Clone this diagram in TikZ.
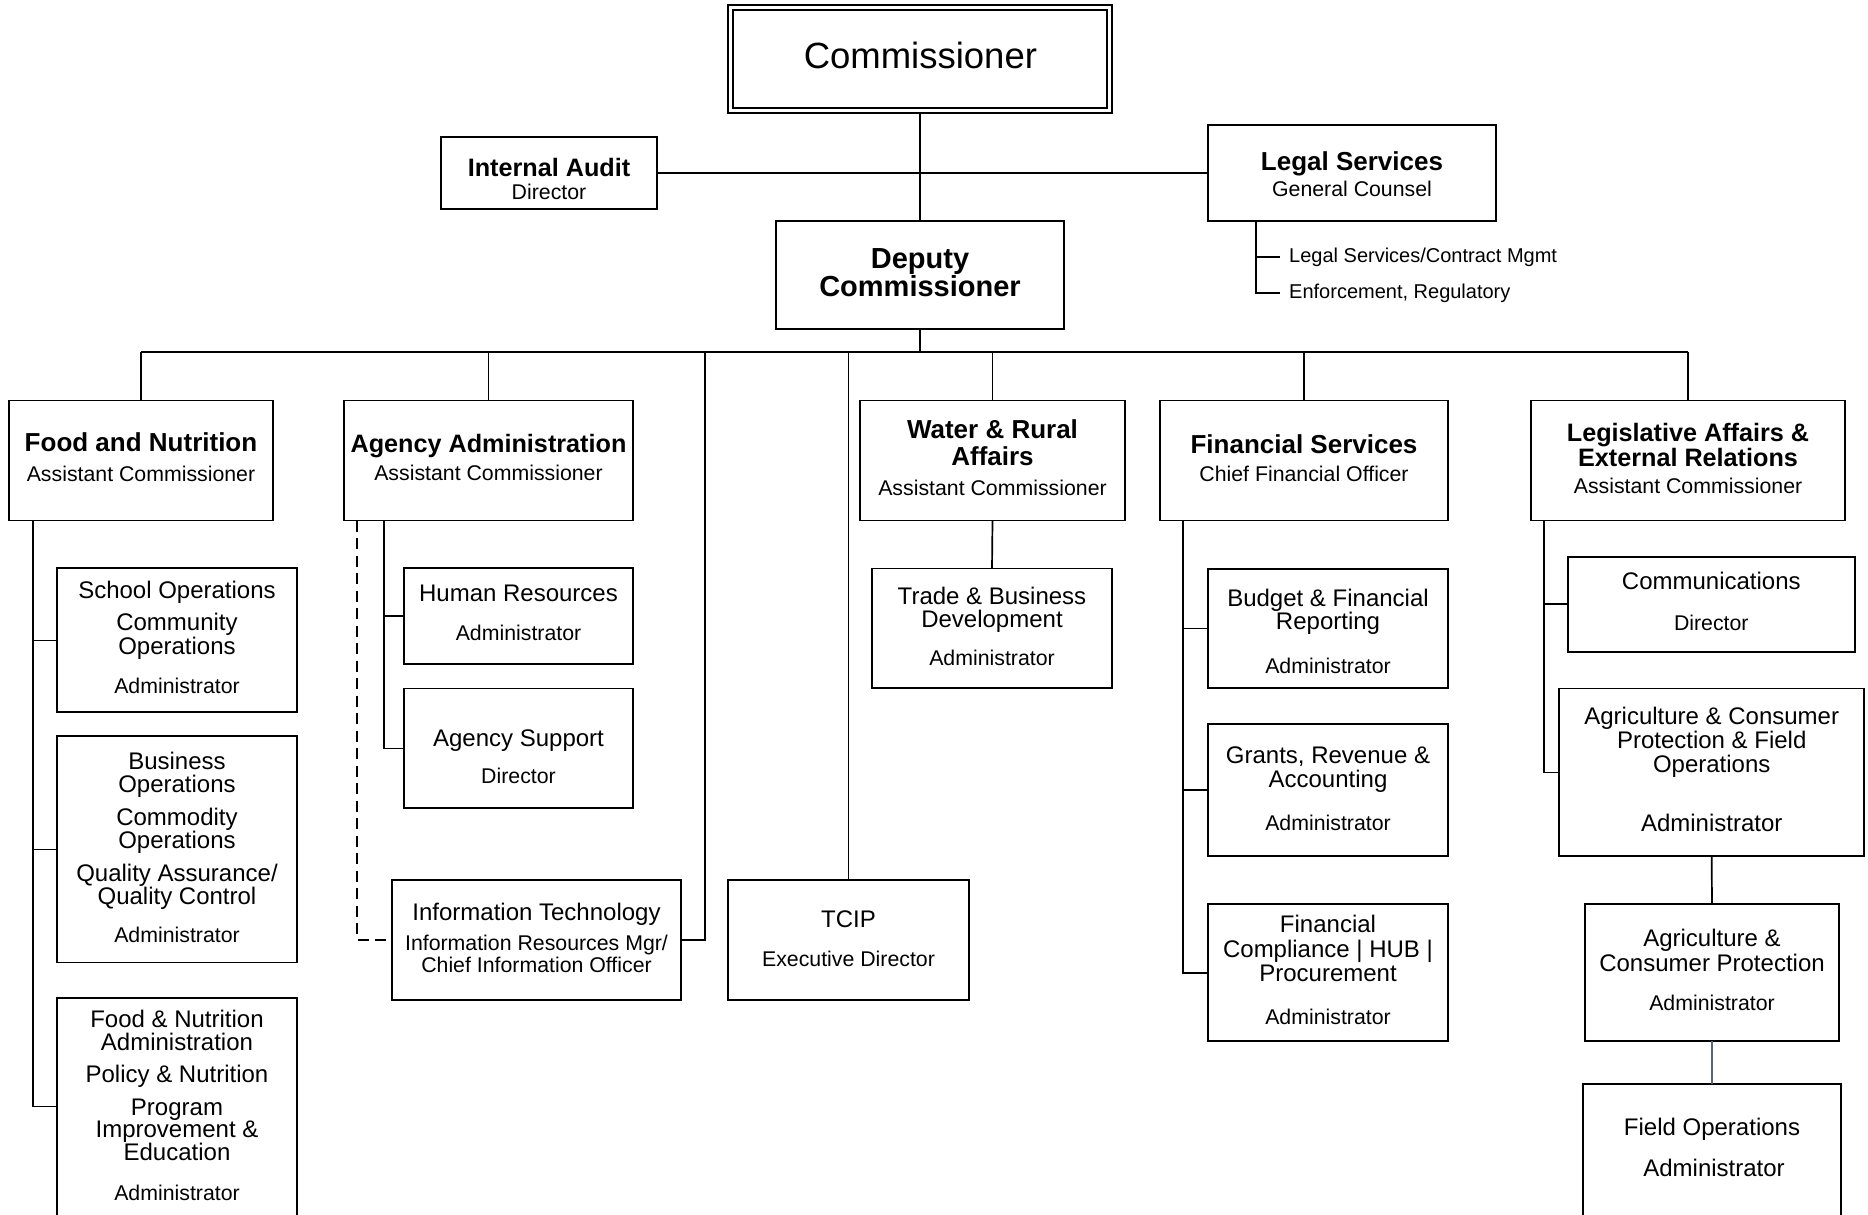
\documentclass[tikz,border=0pt]{standalone}
\usepackage{fontspec}
\setmainfont{Liberation Sans}
\definecolor{slate}{RGB}{90,100,120}
\newcommand\bx[5]{\node[box,minimum width={#4-#2},minimum height={#5-#3}] (#1) at ({(#2+#4)/2},{(#3+#5)/2}) {};}
\newcommand\tline[5]{\node[#1] (#2) at (#3,#4) {#5};}
\tikzset{
 box/.style={draw, line width=1.9pt, inner sep=0pt, outer sep=0pt},
 conn/.style={line width=1.7pt},
 tx/.style={anchor=base, inner sep=0pt},
 fC/.style={tx, font=\fontsize{36.5}{36.5}\selectfont},
 fD/.style={tx, font=\fontsize{29}{29}\selectfont\bfseries},
 fB/.style={tx, font=\fontsize{26}{26}\selectfont\bfseries},
 fBs/.style={tx, font=\fontsize{25.2}{25.2}\selectfont\bfseries},
 fT/.style={tx, font=\fontsize{24}{24}\selectfont},
 fS/.style={tx, font=\fontsize{21.3}{21.3}\selectfont},
 fL/.style={anchor=west, inner xsep=9pt, inner ysep=0pt, font=\fontsize{20}{20}\selectfont},
}
\begin{document}
\begin{tikzpicture}[x=1pt,y=-1pt]
\clip (0,0) rectangle (1868,1215);
\fill[white] (0,0) rectangle (1868,1215);
% boxes
\bx{comm}{728}{5}{1112}{113}
\bx{commin}{733}{10}{1107}{108}
\bx{ia}{441}{137}{657}{209}
\bx{ls}{1208}{125}{1496}{221}
\bx{dep}{776}{221}{1064}{329}
\bx{food}{9}{400.5}{273}{520.5}
\bx{aa}{344}{400.5}{633}{520.5}
\bx{wr}{860}{400.5}{1125}{520.5}
\bx{fs}{1160}{400.5}{1448}{520.5}
\bx{la}{1531}{400.5}{1845}{520.5}
\bx{school}{57}{568.3}{297}{712.4}
\bx{busop}{57}{736.3}{297}{962.5}
\bx{fna}{57}{998.3}{297}{1230}
\bx{hr}{404.3}{568.3}{632.7}{664.3}
\bx{as}{404.3}{688.5}{632.7}{808.3}
\bx{it}{392.3}{880}{680.7}{1000}
\bx{tcip}{728.3}{880}{968.7}{1000.4}
\bx{tb}{872}{568.5}{1112}{688.4}
\bx{bf}{1207.7}{568.6}{1448.3}{688.2}
\bx{gr}{1207.7}{724.3}{1448.3}{856}
\bx{fc}{1207.7}{904.3}{1448.3}{1041}
\bx{com}{1567.7}{556.7}{1855}{651.7}
\bx{ac}{1559}{688.5}{1864.3}{856.4}
\bx{acp}{1584.7}{904.2}{1839.3}{1040.6}
\bx{fo}{1583.3}{1084.3}{1840.7}{1230}
% texts
\tline{fC}{commT}{920.4}{68.7}{Commissioner}
\tline{fBs}{iaT}{549}{176}{Internal Audit}
\tline{fS}{iaS}{549}{199.3}{Director}
\tline{fB}{lsT}{1352}{170.7}{Legal Services}
\tline{fS}{lsS}{1352}{196}{General Counsel}
\tline{fD}{depT1}{920}{268}{Deputy}
\tline{fD}{depT2}{920}{296}{Commissioner}
\node[fL] (ls1) at (1280,257) {Legal Services/Contract Mgmt};
\node[fL] (ls2) at (1280,293) {Enforcement, Regulatory};
\tline{fB}{foodT}{141}{451.7}{Food and Nutrition}
\tline{fS}{foodS}{141}{481.7}{Assistant Commissioner}
\tline{fBs}{aaT}{488.5}{452.7}{Agency Administration}
\tline{fS}{aaS}{488.5}{480.7}{Assistant Commissioner}
\tline{fB}{wrT1}{992.5}{438}{Water \& Rural}
\tline{fB}{wrT2}{992.5}{465}{Affairs}
\tline{fS}{wrS}{992.5}{495}{Assistant Commissioner}
\tline{fB}{fsT}{1304}{453}{Financial Services}
\tline{fS}{fsS}{1304}{481.7}{Chief Financial Officer}
\tline{fBs}{laT1}{1688}{441}{Legislative Affairs \&}
\tline{fBs}{laT2}{1688}{466}{External Relations}
\tline{fS}{laS}{1688}{493}{Assistant Commissioner}
% food and nutrition column
\tline{fT}{sc1}{177}{598.3}{School Operations}
\tline{fT}{sc2}{177}{630}{Community}
\tline{fT}{sc3}{177}{654}{Operations}
\tline{fS}{sc4}{177}{693}{Administrator}
\tline{fT}{bo1}{177}{769.4}{Business}
\tline{fT}{bo2}{177}{792.6}{Operations}
\tline{fT}{bo3}{177}{825}{Commodity}
\tline{fT}{bo4}{177}{848.9}{Operations}
\tline{fT}{bo5}{177}{881.3}{Quality Assurance/}
\tline{fT}{bo6}{177}{904.5}{Quality Control}
\tline{fS}{bo7}{177}{942.7}{Administrator}
\tline{fT}{fn1}{177}{1027.3}{Food \& Nutrition}
\tline{fT}{fn2}{177}{1050.2}{Administration}
\tline{fT}{fn3}{177}{1082.6}{Policy \& Nutrition}
\tline{fT}{fn4}{177}{1115}{Program}
\tline{fT}{fn5}{177}{1137.2}{Improvement \&}
\tline{fT}{fn6}{177}{1160.4}{Education}
\tline{fS}{fn7}{177}{1200.3}{Administrator}
% agency administration column
\tline{fT}{hr1}{518.5}{601.7}{Human Resources}
\tline{fS}{hr2}{518.5}{640}{Administrator}
\tline{fT}{as1}{518.5}{746}{Agency Support}
\tline{fS}{as2}{518.5}{783.3}{Director}
\tline{fT}{it1}{536.5}{920.7}{Information Technology}
\tline{fS}{it2}{536.5}{950.7}{Information Resources Mgr/}
\tline{fS}{it3}{536.5}{972.7}{Chief Information Officer}
\tline{fT}{tc1}{848.5}{927}{TCIP}
\tline{fS}{tc2}{848.5}{966.5}{Executive Director}
% water
\tline{fT}{tb1}{992}{604.5}{Trade \& Business}
\tline{fT}{tb2}{992}{627.8}{Development}
\tline{fS}{tb3}{992}{665.7}{Administrator}
% financial
\tline{fT}{bf1}{1328}{606}{Budget \& Financial}
\tline{fT}{bf2}{1328}{629.3}{Reporting}
\tline{fS}{bf3}{1328}{673.2}{Administrator}
\tline{fT}{gr1}{1328}{763.2}{Grants, Revenue \&}
\tline{fT}{gr2}{1328}{787.5}{Accounting}
\tline{fS}{gr3}{1328}{830.4}{Administrator}
\tline{fT}{fc1}{1328}{932.9}{Financial}
\tline{fT}{fc2}{1328}{957.9}{Compliance | HUB |}
\tline{fT}{fc3}{1328}{981.4}{Procurement}
\tline{fS}{fc4}{1328}{1024.3}{Administrator}
% legislative
\tline{fT}{co1}{1711.3}{589.3}{Communications}
\tline{fS}{co2}{1711.3}{630}{Director}
\tline{fT}{ac1}{1711.7}{724.4}{Agriculture \& Consumer}
\tline{fT}{ac2}{1711.7}{748.2}{Protection \& Field}
\tline{fT}{ac3}{1711.7}{772.1}{Operations}
\tline{fT}{ac4}{1711.7}{831.1}{Administrator}
\tline{fT}{acp1}{1712}{946.8}{Agriculture \&}
\tline{fT}{acp2}{1712}{971.7}{Consumer Protection}
\tline{fS}{acp3}{1712}{1010.3}{Administrator}
\tline{fT}{fo1}{1712}{1135.5}{Field Operations}
\tline{fT}{fo2}{1714}{1176.4}{Administrator}
% connectors
\draw[conn, line width=1.5pt] (comm.south) -- (dep.north);
\draw[conn] (ia.east) -- (ls.west);
\coordinate (lsx) at (1256,0);
\draw[conn] (ls.south -| lsx) |- (ls2.west);
\draw[conn] (ls1.west -| lsx) -- (ls1.west);
\coordinate (bus) at (920,352);
\draw[line width=2.4pt] (dep.south) -- (bus);
\draw[line width=2.2pt] (food.north |- bus) -- (la.north |- bus);
\foreach \n in {food,aa,wr,fs,la,tcip}{\draw[conn] (\n.north |- bus) -- (\n.north);}
\coordinate (itx) at (705,352);
\draw[line width=2.4pt] (itx) |- (it.east);
\coordinate (fx) at (33,0);
\coordinate (fnat) at (57,1106.5);
\draw[conn] (food.south -| fx) |- (fnat);
\draw[conn] (school.west -| fx) -- (school.west);
\draw[conn] (busop.west -| fx) -- (busop.west);
\coordinate (ax) at (384,0);
\draw[conn] (aa.south -| ax) |- (as.west);
\draw[conn] (hr.west -| ax) -- (hr.west);
\coordinate (dx) at (357.3,0);
\draw[conn, dash pattern=on 11pt off 6.5pt] (aa.south -| dx) |- (it.west);
\draw[conn] (wr.south) -- (tb.north);
\coordinate (fsx) at (1182.7,0);
\draw[conn] (fs.south -| fsx) |- (fc.west);
\draw[conn] (bf.west -| fsx) -- (bf.west);
\draw[conn] (gr.west -| fsx) -- (gr.west);
\coordinate (lax) at (1544,0);
\draw[conn] (la.south -| lax) |- (ac.west);
\draw[conn] (com.west -| lax) -- (com.west);
\draw[conn] (ac.south) -- (acp.north);
\draw[conn, slate] (acp.south) -- (fo.north);
\end{tikzpicture}
\end{document}
